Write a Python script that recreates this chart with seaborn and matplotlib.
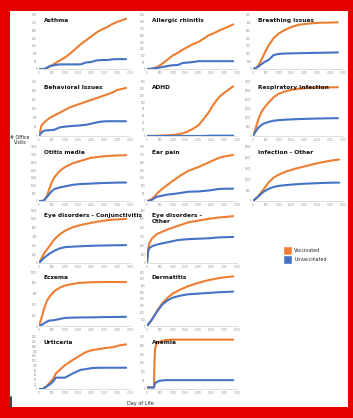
import pandas as pd
import seaborn as sns
import matplotlib.pyplot as plt
from matplotlib.patches import Patch, Rectangle
from matplotlib.lines import Line2D

# cumulative office visits by day of life
asthma_days = [0, 200, 300, 400, 600, 800, 1000, 1200, 1400, 1600, 1800, 2000, 2200, 2400, 2600, 2800, 3000, 3350]
asthma_vax = [0, 0, 5, 15, 35, 55, 75, 100, 130, 160, 185, 210, 235, 255, 270, 290, 305, 325]
asthma_unvax = [0, 0, 8, 18, 25, 30, 30, 30, 30, 30, 42, 45, 55, 58, 58, 62, 64, 64]

allergic_days = [0, 200, 400, 600, 800, 1000, 1200, 1400, 1600, 1800, 2000, 2200, 2400, 2600, 2800, 3000, 3350]
allergic_vax = [0, 3, 15, 40, 70, 100, 120, 145, 165, 185, 200, 225, 250, 265, 285, 300, 330]
allergic_unvax = [0, 2, 8, 15, 22, 28, 30, 45, 48, 52, 58, 58, 58, 58, 58, 58, 58]

breathing_days = [0, 100, 200, 300, 400, 500, 600, 800, 1000, 1200, 1500, 1800, 2200, 2600, 3000, 3300]
breathing_vax = [0, 10, 40, 100, 170, 240, 300, 400, 460, 500, 545, 575, 590, 600, 602, 605]
breathing_unvax = [0, 10, 30, 55, 80, 100, 115, 180, 195, 200, 203, 205, 208, 210, 213, 215]

behavioral_days = [0, 50, 100, 200, 400, 600, 800, 1000, 1200, 1500, 1800, 2000, 2200, 2400, 2600, 2800, 3000, 3350]
behavioral_vax = [0, 30, 60, 75, 100, 115, 130, 145, 160, 175, 190, 200, 210, 220, 230, 240, 255, 267]
behavioral_unvax = [0, 10, 20, 30, 32, 35, 48, 52, 55, 58, 62, 68, 75, 80, 82, 82, 82, 82]

adhd_days = [0, 500, 1000, 1200, 1400, 1600, 1800, 2000, 2200, 2400, 2600, 2800, 3000, 3350]
adhd_vax = [0, 1, 3, 5, 8, 14, 22, 32, 50, 70, 95, 115, 128, 147]
adhd_unvax = [0, 0, 0, 0, 0, 0, 0, 0, 0, 1, 1, 1, 1, 1]

resp_days = [0, 100, 200, 300, 400, 600, 800, 1000, 1300, 1600, 2000, 2500, 3000, 3300]
resp_vax = [0, 400, 900, 1250, 1500, 1850, 2150, 2350, 2500, 2600, 2650, 2700, 2700, 2710]
resp_unvax = [0, 250, 450, 580, 680, 780, 850, 880, 910, 930, 950, 970, 985, 990]

otitis_days = [0, 100, 200, 300, 400, 500, 600, 800, 1000, 1300, 1600, 2000, 2500, 3000, 3350]
otitis_vax = [0, 0, 50, 300, 800, 1250, 1550, 1950, 2200, 2450, 2600, 2800, 2900, 2950, 2970]
otitis_unvax = [0, 0, 50, 250, 450, 650, 780, 880, 950, 1050, 1100, 1130, 1170, 1190, 1200]

ear_days = [0, 100, 200, 300, 400, 600, 800, 1000, 1300, 1600, 2000, 2400, 2800, 3100, 3350]
ear_vax = [0, 5, 15, 30, 50, 80, 105, 130, 165, 195, 220, 250, 280, 292, 298]
ear_unvax = [0, 2, 8, 20, 28, 35, 42, 45, 52, 60, 62, 68, 78, 80, 80]

infection_days = [0, 200, 400, 600, 800, 1000, 1300, 1600, 2000, 2400, 2800, 3100, 3350]
infection_vax = [0, 220, 520, 850, 1080, 1220, 1370, 1480, 1600, 1720, 1820, 1880, 1920]
infection_unvax = [0, 200, 420, 560, 650, 700, 740, 770, 800, 820, 840, 850, 850]

conj_days = [0, 200, 400, 600, 800, 1000, 1300, 1600, 2000, 2400, 2800, 3350]
conj_vax = [0, 220, 380, 540, 650, 730, 810, 860, 910, 950, 980, 1000]
conj_unvax = [0, 120, 210, 280, 330, 360, 370, 380, 390, 395, 400, 405]

eyeother_days = [0, 30, 60, 100, 200, 400, 800, 1200, 1600, 2000, 2400, 2800, 3350]
eyeother_vax = [0, 120, 180, 230, 280, 330, 380, 420, 460, 480, 500, 515, 530]
eyeother_unvax = [0, 100, 150, 170, 190, 210, 235, 260, 270, 275, 280, 290, 295]

eczema_days = [0, 100, 200, 300, 400, 600, 800, 1000, 1300, 1600, 2000, 2500, 3000, 3350]
eczema_vax = [0, 150, 330, 460, 540, 650, 710, 750, 780, 800, 810, 815, 815, 815]
eczema_unvax = [0, 20, 50, 80, 100, 110, 130, 150, 155, 158, 160, 165, 168, 170]

derm_days = [0, 200, 400, 600, 800, 1000, 1300, 1600, 2000, 2400, 2800, 3100, 3350]
derm_vax = [0, 100, 230, 340, 420, 480, 540, 590, 640, 680, 710, 725, 735]
derm_unvax = [0, 100, 220, 320, 380, 420, 450, 470, 480, 490, 500, 505, 510]

urt_days = [0, 150, 300, 450, 550, 650, 800, 1000, 1300, 1600, 1800, 2000, 2300, 2600, 2900, 3100, 3350]
urt_vax = [0, 0, 13, 31, 44, 66, 81, 101, 123, 143, 156, 163, 169, 174, 178, 185, 189]
urt_unvax = [0, 0, 11, 22, 33, 48, 48, 48, 66, 81, 84, 88, 90, 90, 90, 90, 90]

anemia_days = [0, 270, 290, 310, 350, 400, 500, 700, 1000, 1500, 2000, 2500, 3000, 3350]
anemia_vax = [9, 9, 150, 225, 255, 264, 273, 282, 285, 285, 285, 285, 285, 285]
anemia_unvax = [9, 9, 20, 30, 38, 42, 48, 51, 51, 51, 51, 51, 51, 51]

# title, days, vax, unvax, y max, y step, box in px (left, top, right, bottom)
panels = [
    ("Asthma", asthma_days, asthma_vax, asthma_unvax, 350, 50, (39, 15, 130, 69)),
    ("Allergic rhinitis", allergic_days, allergic_vax, allergic_unvax, 400, 50, (147, 15, 237, 69)),
    ("Breathing Issues", breathing_days, breathing_vax, breathing_unvax, 700, 100, (253, 15, 343, 69)),
    ("Behavioral Issues", behavioral_days, behavioral_vax, behavioral_unvax, 300, 50, (39, 82, 130, 136)),
    ("ADHD", adhd_days, adhd_vax, adhd_unvax, 160, 20, (147, 82, 237, 136)),
    ("Respiratory Infection", resp_days, resp_vax, resp_unvax, 3000, 500, (253, 82, 343, 136)),
    ("Otitis media", otitis_days, otitis_vax, otitis_unvax, 3500, 500, (39, 147, 130, 201)),
    ("Ear pain", ear_days, ear_vax, ear_unvax, 350, 50, (147, 147, 237, 201)),
    ("Infection - Other", infection_days, infection_vax, infection_unvax, 2500, 500, (253, 147, 343, 201)),
    ("Eye disorders - Conjunctivitis", conj_days, conj_vax, conj_unvax, 1200, 200, (39, 210, 130, 263)),
    ("Eye disorders -\nOther", eyeother_days, eyeother_vax, eyeother_unvax, 600, 100, (147, 210, 237, 263)),
    ("Eczema", eczema_days, eczema_vax, eczema_unvax, 1000, 200, (39, 272, 130, 326)),
    ("Dermatitis", derm_days, derm_vax, derm_unvax, 800, 100, (147, 272, 237, 326)),
    ("Urticaria", urt_days, urt_vax, urt_unvax, 220, 20, (39, 337, 130, 389)),
    ("Anemia", anemia_days, anemia_vax, anemia_unvax, 300, 50, (147, 337, 237, 389)),
]

x_ticks = [0, 500, 1000, 1500, 2000, 2500, 3000, 3500]
palette = {"Vaccinated": "#ED7D31", "Unvaccinated": "#4472C4"}

W, H = 353, 418
sns.set_style("white")
fig = plt.figure(figsize=(W / 100, H / 100), dpi=100)
fig.patch.set_facecolor("#e60000")
fig.add_artist(Rectangle((10 / W, 1 - 407 / H), 338 / W, 396 / H,
                         transform=fig.transFigure, facecolor="white",
                         edgecolor="none", zorder=0))
fig.add_artist(Line2D([10.5 / W, 10.5 / W], [1 - 407 / H, 1 - 397 / H],
                      transform=fig.transFigure, color="#222222", lw=1.2))

for title, days, vax, unvax, ymax, ystep, (l, t, r, b) in panels:
    ax = fig.add_axes([l / W, 1 - b / H, (r - l) / W, (b - t) / H])
    df = pd.concat([
        pd.DataFrame({"day": days, "visits": vax, "group": "Vaccinated"}),
        pd.DataFrame({"day": days, "visits": unvax, "group": "Unvaccinated"}),
    ])
    sns.lineplot(data=df, x="day", y="visits", hue="group", palette=palette,
                 linewidth=1.5, legend=False, ax=ax)
    ax.set_xlim(0, 3500)
    ax.set_ylim(0, ymax)
    ax.set_xticks(x_ticks)
    ax.set_yticks(range(0, ymax + 1, ystep))
    ax.set_xticklabels([f"{v:,}" for v in x_ticks])
    ax.tick_params(labelsize=1.8, colors="#888888", length=0, pad=1.5)
    ax.set_xlabel("")
    ax.set_ylabel("")
    ax.set_facecolor("white")
    for side in ["left", "top", "right"]:
        ax.spines[side].set_visible(False)
    ax.spines["bottom"].set_color("#d9d9d9")
    ax.spines["bottom"].set_linewidth(0.6)
    ax.text(0.05, 0.94, title, transform=ax.transAxes, fontsize=4.2,
            fontweight="bold", va="top", ha="left", color="#111111")

fig.text(20 / W, 1 - 140 / H, "# Office\nVisits", fontsize=3.4, ha="center",
         va="center", color="#222222", linespacing=1.1)
fig.text(140 / W, 1 - 403 / H, "Day of Life", fontsize=3.6, ha="center",
         va="center", color="#222222")

handles = [Patch(facecolor=palette["Vaccinated"], label="Vaccinated"),
           Patch(facecolor=palette["Unvaccinated"], label="Unvaccinated")]
fig.legend(handles=handles, loc="upper left", bbox_to_anchor=(281 / W, 1 - 244 / H),
           frameon=False, fontsize=3.4, handlelength=1.9, handleheight=2.4,
           handletextpad=0.4, labelspacing=0.05, borderpad=0)

fig.savefig("out.png", dpi=100, facecolor=fig.get_facecolor())
